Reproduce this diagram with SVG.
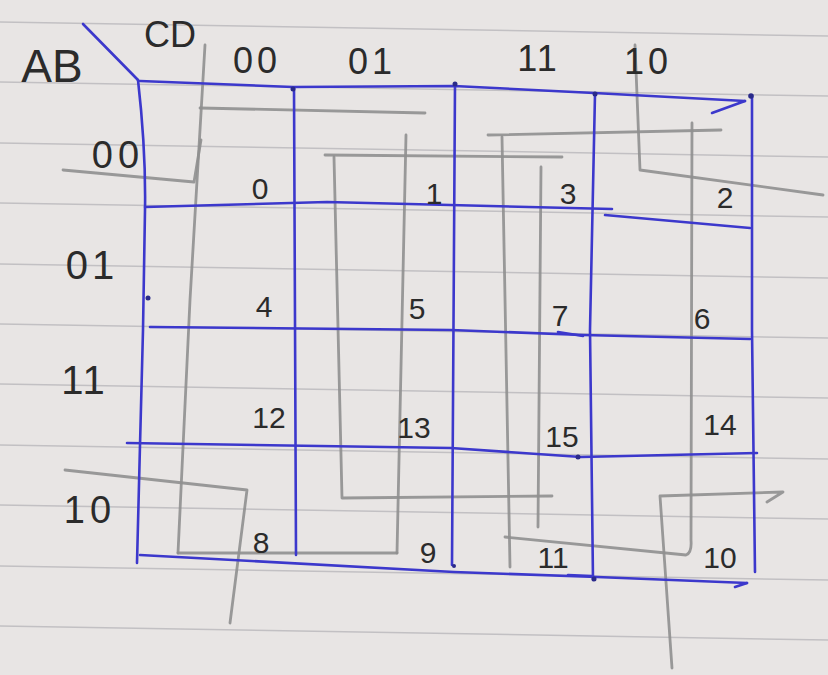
<svg xmlns="http://www.w3.org/2000/svg" width="828" height="675" viewBox="0 0 828 675">
  <style>
    .rule { stroke: #c2c0c3; stroke-width: 1.5; fill: none; }
    .ink { stroke: #3c38cc; stroke-width: 2.6; fill: none; stroke-linecap: round; stroke-linejoin: round; }
    .dot { fill: #2a2a8a; }
    .pencil { stroke: #8f8f8f; stroke-width: 2.8; fill: none; stroke-linecap: round; stroke-linejoin: round; opacity: 0.9; }
    .hand { font-family: "Liberation Sans", "DejaVu Sans", sans-serif; fill: #2b2b2b; text-anchor: middle; }
    .lbl { font-size: 36px; }
    .cell { font-size: 30px; }
  </style>

  <rect x="0" y="0" width="828" height="675" fill="#e8e5e4"/>

  <g id="ruled-lines">
    <path class="rule" d="M0,22 L828,36"/>
    <path class="rule" d="M0,82 L828,96"/>
    <path class="rule" d="M0,143 L828,157"/>
    <path class="rule" d="M0,203 L828,217"/>
    <path class="rule" d="M0,264 L828,278"/>
    <path class="rule" d="M0,324 L828,338"/>
    <path class="rule" d="M0,384 L828,398"/>
    <path class="rule" d="M0,445 L828,459"/>
    <path class="rule" d="M0,505 L828,519"/>
    <path class="rule" d="M0,566 L828,580"/>
    <path class="rule" d="M0,626 L828,640"/>
  </g>

  <g id="pencil-loops">
    <!-- loop over columns 00 and 01 -->
    <path class="pencil" d="M205,45 Q201,120 190,300 L178,553"/>
    <path class="pencil" d="M178,553 L397,553"/>
    <path class="pencil" d="M406,135 L397,553"/>
    <path class="pencil" d="M200,108 L425,113"/>
    <!-- loop over columns 01 and 11 -->
    <path class="pencil" d="M325,155 L562,157"/>
    <path class="pencil" d="M334,157 L342,498 L552,496"/>
    <path class="pencil" d="M541,167 L538,527"/>
    <!-- loop over columns 11 and 10 -->
    <path class="pencil" d="M488,135 L721,130"/>
    <path class="pencil" d="M502,137 L510,567"/>
    <path class="pencil" d="M505,537 L686,555 Q692,553 691,540 L692,123"/>
    <!-- four corners -->
    <path class="pencil" d="M63,170 L194,182 L201,140"/>
    <path class="pencil" d="M635,45 L640,170 L823,195"/>
    <path class="pencil" d="M65,470 L247,490 L230,623"/>
    <path class="pencil" d="M767,502 L783,492 L660,496 L672,668"/>
  </g>

  <g id="grid">
    <path class="ink" d="M83,24 L138,80" stroke-width="3.2"/>
    <path class="ink" d="M140,81 L293,87 L454,86 L594,93 L745,101"/>
    <path class="ink" d="M712,113 L745,101"/>
    <path class="ink" d="M138,80 Q146,150 145,210 L143,330 L140,445 L137,563"/>
    <path class="ink" d="M294,88 L296,555"/>
    <path class="ink" d="M455,84 L452,565"/>
    <path class="ink" d="M595,94 L590,330 L593,580"/>
    <path class="ink" d="M752,96 L752,330 L755,572"/>
    <path class="ink" d="M145,207 L327,202 L450,205 L612,209"/>
    <path class="ink" d="M605,215 L750,228"/>
    <path class="ink" d="M150,327 L451,330 L583,335 L750,339"/>
    <path class="ink" d="M558,332 L583,336"/>
    <path class="ink" d="M127,443 L451,448 L581,457 L757,453"/>
    <path class="ink" d="M140,555 L454,572 L597,577 L747,583"/>
    <path class="ink" d="M735,587 L747,583"/>
    <path class="ink" d="M568,575 L592,576" stroke-width="4"/>
    <circle class="dot" cx="293" cy="89" r="2.5"/>
    <circle class="dot" cx="455" cy="84" r="2.5"/>
    <circle class="dot" cx="595" cy="94" r="2.5"/>
    <circle class="dot" cx="751" cy="96" r="2.8"/>
    <circle class="dot" cx="148" cy="298" r="2.5"/>
    <circle class="dot" cx="578" cy="457" r="2.5"/>
    <circle class="dot" cx="594" cy="579" r="2.5"/>
    <circle class="dot" cx="454" cy="566" r="2"/>
  </g>

  <g id="axis-labels">
    <text class="hand" x="52" y="82" font-size="46">AB</text>
    <text class="hand" x="170" y="47" font-size="36">CD</text>
    <text class="hand lbl" x="257" y="73" letter-spacing="4">00</text>
    <text class="hand lbl" x="372" y="74" letter-spacing="4">01</text>
    <text class="hand lbl" x="538" y="71" letter-spacing="2">11</text>
    <text class="hand lbl" x="648" y="74" letter-spacing="4">10</text>
    <text class="hand" x="118" y="168" font-size="38" letter-spacing="5">00</text>
    <text class="hand" x="92" y="279" font-size="40" letter-spacing="4">01</text>
    <text class="hand" x="84" y="394" font-size="40" letter-spacing="2">11</text>
    <text class="hand" x="90" y="523" font-size="38" letter-spacing="5">10</text>
  </g>

  <g id="cells">
    <text class="hand cell" x="260" y="199">0</text>
    <text class="hand cell" x="434" y="204">1</text>
    <text class="hand cell" x="568" y="204">3</text>
    <text class="hand cell" x="725" y="208">2</text>
    <text class="hand cell" x="264" y="317">4</text>
    <text class="hand cell" x="417" y="319">5</text>
    <text class="hand cell" x="560" y="326">7</text>
    <text class="hand cell" x="702" y="329">6</text>
    <text class="hand cell" x="269" y="428">12</text>
    <text class="hand cell" x="414" y="438">13</text>
    <text class="hand cell" x="562" y="447">15</text>
    <text class="hand cell" x="720" y="435">14</text>
    <text class="hand cell" x="261" y="553">8</text>
    <text class="hand cell" x="428" y="563">9</text>
    <text class="hand cell" x="553" y="568">11</text>
    <text class="hand cell" x="720" y="568">10</text>
  </g>
</svg>
